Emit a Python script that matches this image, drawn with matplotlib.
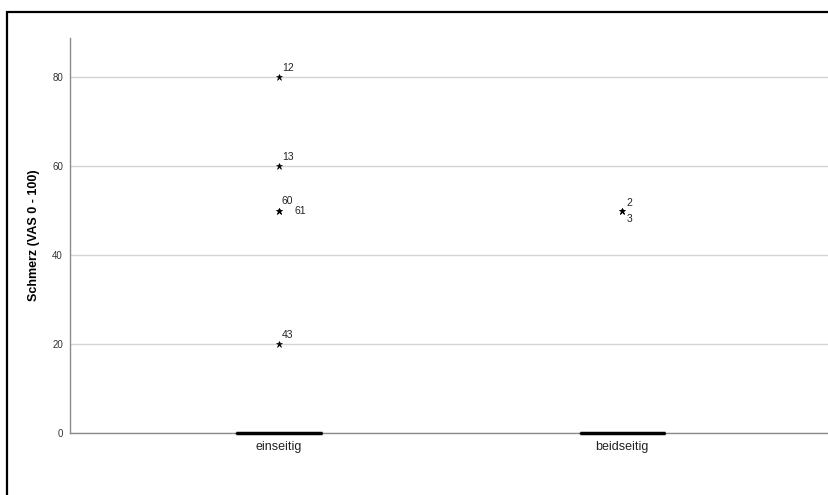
import matplotlib
matplotlib.use("Agg")
import matplotlib.pyplot as plt
from matplotlib.patches import Rectangle

plt.rcParams['font.family'] = ['Liberation Sans', 'DejaVu Sans']

# Groups and their summary values (all quartiles collapse onto 0)
groups = ["einseitig", "beidseitig"]
medians = [0, 0]
q1s = [0, 0]
q3s = [0, 0]
whis_lo = [0, 0]
whis_hi = [0, 0]

# Extreme values (stars) with case numbers
extremes = [[80, 60, 50, 50, 20], [50, 50]]
case_ids = [["12", "13", "60", "61", "43"], ["2", "3"]]
# label offsets in points (dx, dy) for each case label
label_offsets = [[(2, 3), (2, 3), (2, 3), (11, 0), (2, 3)], [(3, 2), (3, -6)]]

yticks = [0, 20, 40, 60, 80]

fig = plt.figure(figsize=(8.29, 4.95), dpi=100)
ax = fig.add_axes([70 / 829, 1 - 433 / 495, 1 - 70 / 829 + 0.003, (433 - 38) / 495])

stats = []
for i, g in enumerate(groups):
    stats.append(dict(label=g, med=medians[i], q1=q1s[i], q3=q3s[i],
                      whislo=whis_lo[i], whishi=whis_hi[i], fliers=[]))

parts = ax.bxp(stats, positions=[0, 1], widths=0.248, showfliers=False, showcaps=False,
               boxprops=dict(color="black", linewidth=1),
               whiskerprops=dict(color="black", linewidth=1),
               medianprops=dict(color="black", linewidth=2.5, solid_capstyle="butt"))
for key in ("medians", "boxes", "whiskers"):
    for artist in parts[key]:
        artist.set_clip_on(False)
        artist.set_zorder(6)

for i, vals in enumerate(extremes):
    ax.plot([i] * len(vals), vals, linestyle="none", marker="*", color="black",
            markersize=4.5, markeredgewidth=0.4, zorder=5)
    for v, cid, off in zip(vals, case_ids[i], label_offsets[i]):
        ax.annotate(cid, (i, v), xytext=off, textcoords="offset points",
                    fontsize=7.5, color="#222222", ha="left", va="bottom" if off[1] > 0 else "center")

ax.set_xlim(-0.609, 1.61)
ax.set_ylim(0, 88.8)
ax.set_yticks(yticks)
ax.set_xticks([0, 1])
ax.set_xticklabels(groups, fontsize=9, color="#222222")
ax.tick_params(axis="y", length=0, pad=5, labelsize=7, labelcolor="#333333")
ax.tick_params(axis="x", length=0, pad=6)
ax.yaxis.grid(True, color="#d4d4d4", linewidth=1)
ax.set_axisbelow(True)
for side in ["top", "right"]:
    ax.spines[side].set_visible(False)
for side in ["left", "bottom"]:
    ax.spines[side].set_color("#8c8c8c")
    ax.spines[side].set_linewidth(1)

ax.set_ylabel("Schmerz (VAS 0 - 100)", fontsize=9, fontweight="bold")
ax.yaxis.set_label_coords(-30 / 762, 0.5)

# Outer chart frame
fig.patches.append(Rectangle((7 / 829, -0.1), 1.2, 1.1 - 12 / 495, transform=fig.transFigure,
                             fill=False, edgecolor="black", linewidth=1.6))

fig.savefig("out.png", dpi=100)
